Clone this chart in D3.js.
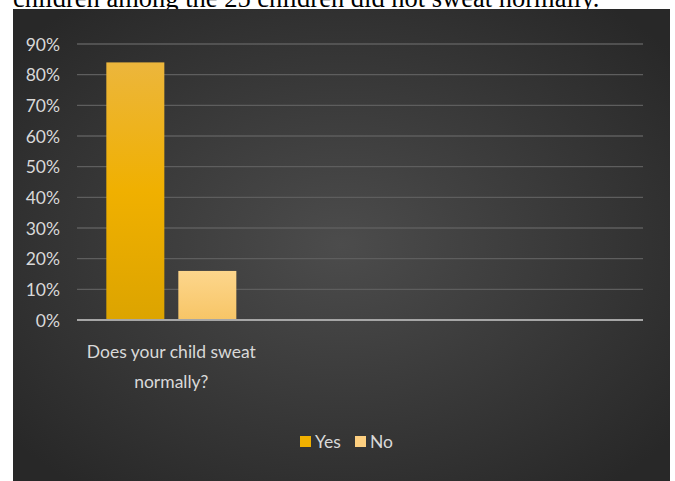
<!DOCTYPE html>
<html><head><meta charset="utf-8">
<script src="https://cdn.jsdelivr.net/npm/d3@7"></script>
<style>html,body{margin:0;padding:0;background:#fff;}svg{display:block;}</style>
</head><body>
<script>
const categories = ["Does your child sweat normally?", "", " "];
const seriesNames = ["Yes", "No"];
const yesValues = [0.84, null, null];
const noValues = [0.16, null, null];
const yTicks = [0, 0.1, 0.2, 0.3, 0.4, 0.5, 0.6, 0.7, 0.8, 0.9];
const seriesColors = ["url(#gYes)", "url(#gNo)"];
const swatchColors = ["#f0b000", "#fdcf80"];
const captionText = "children among the 25 children did not sweat normally.";

const W = 675, H = 481;
const FONT = "Lato, 'Open Sans', sans-serif";
const FS = 17.5;
const svg = d3.select("body").append("svg").attr("width", W).attr("height", H);
const defs = svg.append("defs");
const bg = defs.append("radialGradient").attr("id","bg").attr("cx","50%").attr("cy","50%").attr("r","65%");
bg.append("stop").attr("offset","0%").attr("stop-color","#4c4c4c");
bg.append("stop").attr("offset","100%").attr("stop-color","#282828");
const gy = defs.append("linearGradient").attr("id","gYes").attr("x1",0).attr("x2",0).attr("y1",0).attr("y2",1);
gy.append("stop").attr("offset","0%").attr("stop-color","#ecb63c");
gy.append("stop").attr("offset","50%").attr("stop-color","#f0b000");
gy.append("stop").attr("offset","100%").attr("stop-color","#dca400");
const gn = defs.append("linearGradient").attr("id","gNo").attr("x1",0).attr("x2",0).attr("y1",0).attr("y2",1);
gn.append("stop").attr("offset","0%").attr("stop-color","#fdd68c");
gn.append("stop").attr("offset","100%").attr("stop-color","#f7c566");

// caption strip (cut off by the panel, as in the source)
svg.append("text").attr("x", 13).attr("y", 7)
  .attr("font-family","'Liberation Serif', 'Times New Roman', serif").attr("font-size", 26.5)
  .attr("fill","#000").text(captionText);

// chart panel
svg.append("rect").attr("x",13).attr("y",9).attr("width",657).attr("height",H-9).attr("fill","url(#bg)");

const x0 = d3.scaleBand().domain(categories).range([77, 643]).paddingInner(0).paddingOuter(0);
const y = d3.scaleLinear().domain([0, 0.9]).range([320, 44]);
const barW = 58, gap = 14;
const x1 = d3.scaleBand().domain(seriesNames).range([0, barW*2+gap]).paddingInner(gap/(barW+gap)).paddingOuter(0);

// gridlines
svg.append("g").selectAll("line").data(yTicks.filter(d=>d>0)).join("line")
  .attr("x1",77).attr("x2",643).attr("y1",d=>y(d)).attr("y2",d=>y(d))
  .attr("stroke","#5e5e5e").attr("stroke-width",1.3);

// y axis labels
const yAxis = d3.axisLeft(y).tickValues(yTicks).tickFormat(d3.format(".0%")).tickSize(0).tickPadding(17);
const ya = svg.append("g").attr("transform","translate(77,0)").call(yAxis);
ya.select(".domain").remove();
ya.selectAll("text").attr("fill","#d9d9d9").attr("font-family",FONT).attr("font-size",FS).attr("dy","0.35em");

// bars
const data = categories.map((c,i)=>({c, vals:[{s:"Yes",v:yesValues[i]},{s:"No",v:noValues[i]}]}));
const offset = (x0.bandwidth() - (barW*2+gap))/2;
const grp = svg.append("g").selectAll("g").data(data).join("g")
  .attr("transform", d=>`translate(${x0(d.c)+offset},0)`);
grp.selectAll("rect").data(d=>d.vals.filter(v=>v.v!=null)).join("rect")
  .attr("x", d=>x1(d.s)).attr("width", x1.bandwidth())
  .attr("y", d=>y(d.v)).attr("height", d=>y(0)-y(d.v))
  .attr("fill", (d)=>seriesColors[seriesNames.indexOf(d.s)]);

// zero line
svg.append("line").attr("x1",77).attr("x2",643).attr("y1",y(0)).attr("y2",y(0)).attr("stroke","#a6a6a6").attr("stroke-width",2);

// category labels (wrapped)
const catLines = [["Does your child sweat", "normally?"]];
catLines.forEach((lines,i)=>{
  const cx = x0(categories[i]) + x0.bandwidth()/2;
  const t = svg.append("text").attr("text-anchor","middle").attr("fill","#d9d9d9")
    .attr("font-family",FONT).attr("font-size",FS);
  lines.forEach((ln,j)=>t.append("tspan").attr("x",cx).attr("y",358+j*30).text(ln));
});

// legend
const legend = svg.append("g");
const legItems = [{n:"Yes", x:300},{n:"No", x:355}];
legItems.forEach((it,i)=>{
  legend.append("rect").attr("x",it.x).attr("y",436).attr("width",11).attr("height",11).attr("fill",swatchColors[i]);
  legend.append("text").attr("x",it.x+15).attr("y",448).attr("fill","#d9d9d9")
    .attr("font-family",FONT).attr("font-size",FS).text(it.n);
});
</script>
</body></html>
